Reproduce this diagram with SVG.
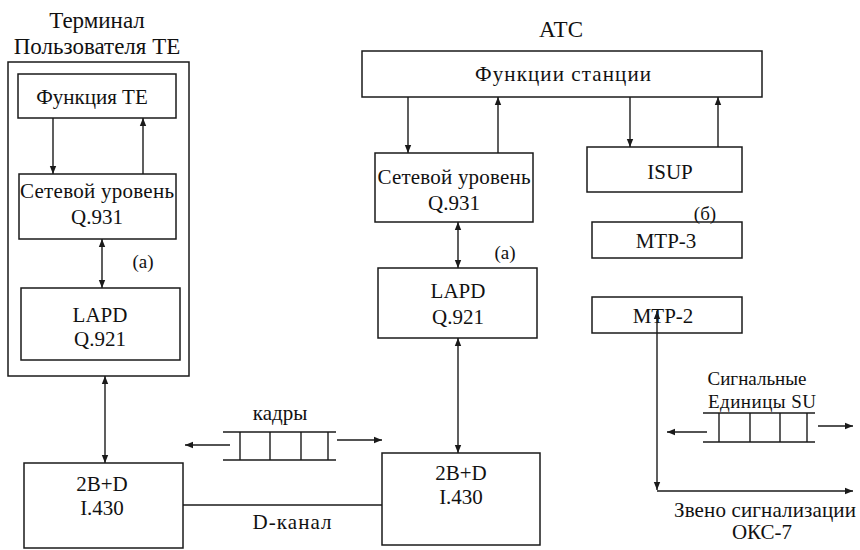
<svg xmlns="http://www.w3.org/2000/svg" width="860" height="550" viewBox="0 0 860 550" font-family="'Liberation Serif', 'DejaVu Serif', serif">
<defs>
<marker id="ah" viewBox="0 0 10 10" refX="10" refY="5" markerWidth="8" markerHeight="8" markerUnits="userSpaceOnUse" orient="auto-start-reverse">
<path d="M0,1 L10,5 L0,9 z" fill="#1a1a1a"/>
</marker>
<style>
rect{fill:none;stroke:#1a1a1a;stroke-width:1.5}
line{stroke:#1a1a1a;stroke-width:1.4;fill:none}
text{font-size:21px;fill:#111;text-anchor:middle}
.t{font-size:23px}
.s{font-size:19px}
</style>
</defs>
<rect x="0" y="0" width="860" height="550" style="fill:#fff;stroke:none"/>

<g id="te-title"><text class="t" x="97" y="28">Терминал</text><text class="t" x="97" y="54">Пользователя ТЕ</text></g>
<g id="te-outer"><rect x="8" y="62" width="181" height="314"/></g>
<g id="te-func"><rect x="18" y="74" width="158" height="44"/><text x="92" y="104">Функция ТЕ</text></g>
<g id="te-q931"><rect x="19" y="174" width="157" height="65"/><text x="97" y="198" textLength="154">Сетевой уровень</text><text x="97" y="224">Q.931</text></g>
<g id="te-lapd"><rect x="21" y="288" width="159" height="72"/><text x="100" y="322">LAPD</text><text x="100" y="346">Q.921</text></g>
<g id="te-l1"><rect x="24" y="463" width="159" height="85"/><text x="102" y="491">2B+D</text><text x="102" y="515">I.430</text></g>

<g id="atc-title"><text class="t" x="561" y="37">АТС</text></g>
<g id="atc-func"><rect x="362" y="51" width="400" height="46"/><text x="563" y="81" textLength="176">Функции станции</text></g>
<g id="atc-q931"><rect x="375" y="153" width="158" height="69"/><text x="454" y="184" textLength="153">Сетевой уровень</text><text x="454" y="210">Q.931</text></g>
<g id="atc-lapd"><rect x="378" y="268" width="159" height="70"/><text x="458" y="298">LAPD</text><text x="458" y="324">Q.921</text></g>
<g id="atc-l1"><rect x="382" y="453" width="158" height="92"/><text x="461" y="480">2B+D</text><text x="461" y="504">I.430</text></g>
<g id="isup"><rect x="587" y="147" width="155" height="45"/><text x="670" y="179">ISUP</text></g>
<g id="mtp3"><rect x="592" y="222" width="150" height="36"/><text x="666" y="248">МТР-3</text></g>
<g id="mtp2"><rect x="592" y="297" width="150" height="36"/><text x="663" y="323">МТР-2</text></g>

<g id="labels">
<text class="s" x="143" y="268">(а)</text>
<text class="s" x="505" y="259">(а)</text>
<text class="s" x="705" y="220">(б)</text>
<text x="280" y="420">кадры</text>
<text x="292" y="529" textLength="79">D-канал</text>
<text class="s" x="757" y="385">Сигнальные</text>
<text class="s" x="762" y="408" textLength="108">Единицы SU</text>
<text x="765" y="517" textLength="182">Звено сигнализации</text>
<text x="762" y="539">ОКС-7</text>
</g>

<g id="frames">
<line x1="223" y1="432" x2="336" y2="432"/>
<line x1="223" y1="460" x2="336" y2="460"/>
<line x1="240" y1="432" x2="240" y2="460"/>
<line x1="270" y1="432" x2="270" y2="460"/>
<line x1="301" y1="432" x2="301" y2="460"/>
<line x1="328" y1="432" x2="328" y2="460"/>
<line x1="703" y1="413" x2="815" y2="413"/>
<line x1="703" y1="442" x2="815" y2="442"/>
<line x1="719" y1="413" x2="719" y2="442"/>
<line x1="750" y1="413" x2="750" y2="442"/>
<line x1="780" y1="413" x2="780" y2="442"/>
<line x1="807" y1="413" x2="807" y2="442"/>
</g>

<g id="connectors">
<line x1="53" y1="118" x2="53" y2="174" marker-end="url(#ah)"/>
<line x1="143" y1="174" x2="143" y2="118" marker-end="url(#ah)"/>
<line x1="102" y1="239" x2="102" y2="288" marker-start="url(#ah)" marker-end="url(#ah)"/>
<line x1="105" y1="376" x2="105" y2="463" marker-start="url(#ah)" marker-end="url(#ah)"/>
<line x1="183" y1="505" x2="382" y2="505"/>
<line x1="230" y1="445" x2="185" y2="445" marker-end="url(#ah)"/>
<line x1="337" y1="440" x2="382" y2="440" marker-end="url(#ah)"/>
<line x1="408" y1="97" x2="408" y2="153" marker-end="url(#ah)"/>
<line x1="498" y1="153" x2="498" y2="97" marker-end="url(#ah)"/>
<line x1="458" y1="222" x2="458" y2="268" marker-start="url(#ah)" marker-end="url(#ah)"/>
<line x1="458" y1="338" x2="458" y2="453" marker-start="url(#ah)" marker-end="url(#ah)"/>
<line x1="630" y1="97" x2="630" y2="147" marker-end="url(#ah)"/>
<line x1="718" y1="147" x2="718" y2="97" marker-end="url(#ah)"/>
<line x1="657" y1="311" x2="657" y2="490" marker-start="url(#ah)" marker-end="url(#ah)"/>
<line x1="657" y1="491" x2="853" y2="491" marker-end="url(#ah)"/>
<line x1="707" y1="432" x2="667" y2="432" marker-end="url(#ah)"/>
<line x1="818" y1="426" x2="853" y2="426" marker-end="url(#ah)"/>
</g>
</svg>
